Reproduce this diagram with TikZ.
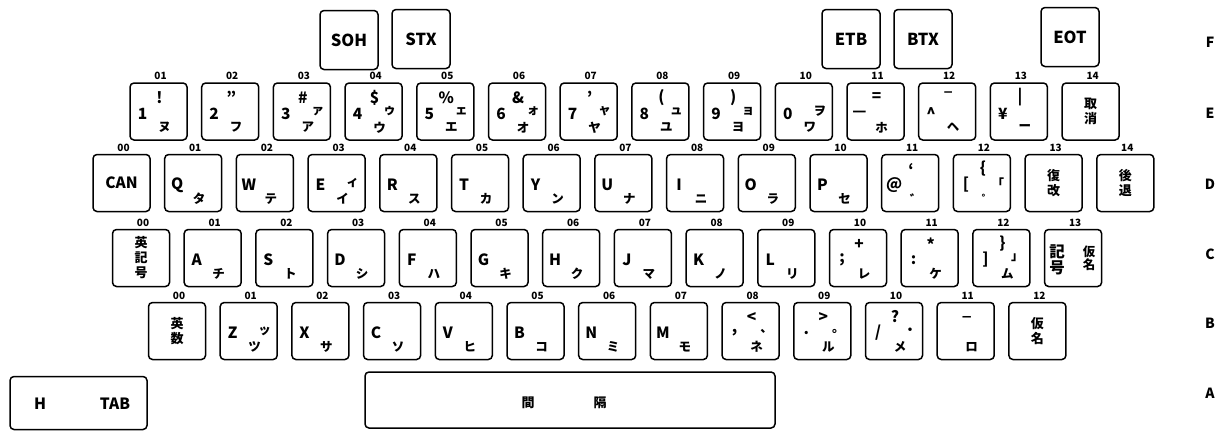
\documentclass[tikz,border=0pt]{standalone}
\usepackage{fontspec}
\setmainfont{Noto Sans CJK JP}
\newfontfamily\symfont{DejaVu Sans}
\usetikzlibrary{positioning}

% one key: name, x, y, centre text, left, top, right, bottom, number
\newcommand{\kbkey}[9]{%
  \node[keycap] (#1) at ({#2},#3) {#4};
  \node[lgd] (#1-l) at ([xshift=-16pt,yshift=-2pt]#1.center) {#5};
  \node[lgd] (#1-t) at ([xshift=1pt,yshift=14pt]#1.center) {#6};
  \node[kana] (#1-r) at ([xshift=16pt,yshift=0pt]#1.center) {#7};
  \node[kana] (#1-b) at ([xshift=6pt,yshift=-16pt]#1.center) {#8};
  \node[num] (#1-n) at ([xshift=2pt,yshift=6pt]#1.north) {#9};
}

\begin{document}
\begin{tikzpicture}[x=1pt, y=-1pt,
    keycap/.style={draw, line width=1.5pt, rounded corners=4pt, minimum width=57pt,
      minimum height=57pt, inner sep=0pt, align=center,
      font=\fontsize{13}{15}\selectfont\bfseries},
    lgd/.style={inner sep=0pt, align=center, font=\fontsize{15.5}{16}\selectfont\bfseries},
    kana/.style={inner sep=0pt, align=center, font=\fontsize{12.5}{13}\selectfont\bfseries},
    num/.style={inner sep=0pt, font=\fontsize{10}{10}\selectfont\bfseries},
    rowlbl/.style={inner sep=0pt, font=\fontsize{14}{15}\selectfont\bfseries},
    ctl/.style={keycap, minimum width=58pt, minimum height=59pt, font=\fontsize{16.5}{17}\selectfont\bfseries}
]
\useasboundingbox (0,0) rectangle (1221,431);

% row F
\node[ctl] (soh) at (349,40) {SOH};
\node[ctl] (stx) at (421,39) {STX};
\node[ctl] (etb) at (851,39) {ETB};
\node[ctl] (btx) at (923,39) {BTX};
\node[ctl] (eot) at (1070,37) {EOT};

% row E
\foreach \kn/\kc/\kl/\kt/\kr/\kd [count=\i from 0] in {
    01//1/!//ヌ, 02//2/"//フ, 03//3/\#/ァ/ア, 04//4/\$/ゥ/ウ, 05//5/\%/ェ/エ,
    06//6/\&/ォ/オ, 07//7/'/ャ/ヤ, 08//8/(/ュ/ユ, 09//9/)/ョ/ヨ, 10//0//ヲ/ワ,
    11//—/=//ホ, 12//\textasciicircum/{\symfont ‾}//ヘ, 13//¥/|//ー, 14/取\\消////}
  {\kbkey{e\kn}{158.5+\i*71.7}{111.5}{\kc}{\kl}{\kt}{\kr}{\kd}{\kn}}

% row D
\foreach \kn/\kc/\kl/\kt/\kr/\kd [count=\i from 0] in {
    00/{\fontsize{15.5}{16}\selectfont CAN}////, 01//Q///タ, 02//W///テ, 03//E//ィ/イ,
    04//R///ス, 05//T///カ, 06//Y///ン, 07//U///ナ, 08//I///ニ, 09//O///ラ, 10//P///セ,
    11//@/`//゛, 12//[/\{/「/゜, 13/復\\改////, 14/後\\退////}
  {\kbkey{d\kn}{121.5+\i*71.7}{183}{\kc}{\kl}{\kt}{\kr}{\kd}{\kn}}

% row C
\foreach \kn/\kc/\kl/\kt/\kr/\kd [count=\i from 0] in {
    00/英\\記\\号////, 01//A///チ, 02//S///ト, 03//D///シ, 04//F///ハ, 05//G///キ,
    06//H///ク, 07//J///マ, 08//K///ノ, 09//L///リ, 10//;/+//レ, 11//:/*//ケ,
    12//]/\}/」/ム, 13//記\\号//仮\\名/}
  {\kbkey{c\kn}{141+\i*71.7}{258}{\kc}{\kl}{\kt}{\kr}{\kd}{\kn}}

% row B
\foreach \kn/\kc/\kl/\kt/\kr/\kd [count=\i from 0] in {
    00/英\\数////, 01//Z//ッ/ツ, 02//X///サ, 03//C///ソ, 04//V///ヒ, 05//B///コ,
    06//N///ミ, 07//M///モ, 08//{,}/</、/ネ, 09//{.}/>/。/ル, 10//{/}/?/・/メ,
    11///\_//ロ, 12/仮\\名////}
  {\kbkey{b\kn}{177+\i*71.7}{331}{\kc}{\kl}{\kt}{\kr}{\kd}{\kn}}

% row A
\node[keycap, minimum width=137pt, minimum height=53pt] (tab) at (78.5,403) {};
\node[lgd] (tab-h) at (40,404) {H};
\node[lgd] (tab-t) at (115,404) {TAB};
\node[keycap, minimum width=410pt, minimum height=56pt] (space) at (570,400) {};
\node[keycap, draw=none] (space-a) at (528,403) {間};
\node[keycap, draw=none] (space-b) at (600,403) {隔};

% row letters
\node[rowlbl] (lF) at (1210,42) {F};
\node[rowlbl] (lE) at (1210,113) {E};
\node[rowlbl] (lD) at (1210,184) {D};
\node[rowlbl] (lC) at (1210,254) {C};
\node[rowlbl] (lB) at (1210,323) {B};
\node[rowlbl] (lA) at (1210,393) {A};
\end{tikzpicture}
\end{document}
